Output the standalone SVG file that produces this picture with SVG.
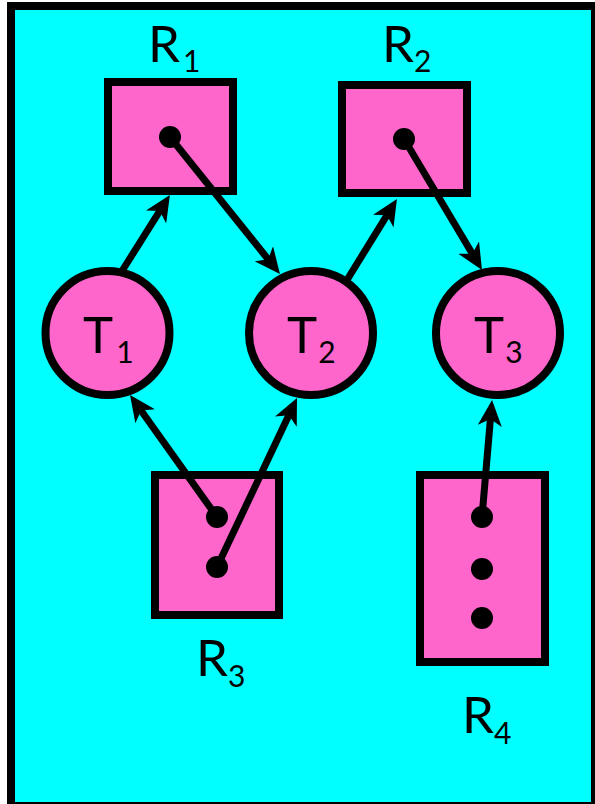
<svg xmlns="http://www.w3.org/2000/svg" width="595" height="804" viewBox="0 0 595 804">
<style>
.node{fill:#FF66CC;stroke:#000;stroke-width:8}
.dot{fill:#000}
.lbl{font-family:Lato,"Open Sans","Liberation Sans",sans-serif;font-size:51px;fill:#000}
.sub{font-size:30px}
.edge{stroke:#000;stroke-width:7;fill:none;marker-end:url(#ah)}
</style>
<defs>
<marker id="ah" markerUnits="userSpaceOnUse" viewBox="0 0 26 24" markerWidth="26" markerHeight="24" refX="8" refY="12" orient="auto">
<path d="M26,12 L0,0 L7,12 L0,24 Z" fill="#000"/>
</marker>
</defs>
<rect x="0" y="0" width="595" height="804" fill="#fff"/>
<rect x="11" y="6" width="584" height="800" fill="#00FFFF" stroke="#000" stroke-width="8"/>
<g id="R1">
<rect class="node" x="108" y="82" width="125" height="109"/>
<circle class="dot" cx="170" cy="137" r="11"/>
<text class="lbl" x="148" y="62">R<tspan class="sub" dx="3" dy="10">1</tspan></text>
</g>
<g id="R2">
<rect class="node" x="342" y="85" width="125" height="108"/>
<circle class="dot" cx="404" cy="139" r="11"/>
<text class="lbl" x="382" y="62">R<tspan class="sub" dx="0" dy="10">2</tspan></text>
</g>
<g id="T1">
<circle class="node" cx="107.5" cy="333" r="62"/>
<text class="lbl" x="83" y="353">T<tspan class="sub" dx="3" dy="10">1</tspan></text>
</g>
<g id="T2">
<circle class="node" cx="311" cy="333" r="62"/>
<text class="lbl" x="287" y="353">T<tspan class="sub" dx="1" dy="10">2</tspan></text>
</g>
<g id="T3">
<circle class="node" cx="498" cy="333" r="62"/>
<text class="lbl" x="474" y="353">T<tspan class="sub" dx="1" dy="10">3</tspan></text>
</g>
<g id="R3">
<rect class="node" x="155" y="475" width="124" height="140"/>
<circle class="dot" cx="217" cy="517" r="11"/>
<circle class="dot" cx="217" cy="567" r="11"/>
<text class="lbl" x="196" y="676">R<tspan class="sub" dx="0" dy="11">3</tspan></text>
</g>
<g id="R4">
<rect class="node" x="420" y="475" width="125" height="187"/>
<circle class="dot" cx="482" cy="517" r="11"/>
<circle class="dot" cx="482" cy="569" r="11"/>
<circle class="dot" cx="482" cy="618" r="11"/>
<text class="lbl" x="462" y="733">R<tspan class="sub" dx="0" dy="11">4</tspan></text>
</g>
<g id="connectors">
<line class="edge" x1="122" y1="271" x2="160.3" y2="210.2"/>
<line class="edge" x1="170" y1="137" x2="268.7" y2="260"/>
<line class="edge" x1="347" y1="280" x2="387.5" y2="214.3"/>
<line class="edge" x1="404" y1="139" x2="472.8" y2="254.5"/>
<line class="edge" x1="217" y1="517" x2="140.5" y2="409.7"/>
<line class="edge" x1="217" y1="567" x2="289.3" y2="414.3"/>
<line class="edge" x1="482" y1="517" x2="490.5" y2="417.9"/>
</g>
</svg>
